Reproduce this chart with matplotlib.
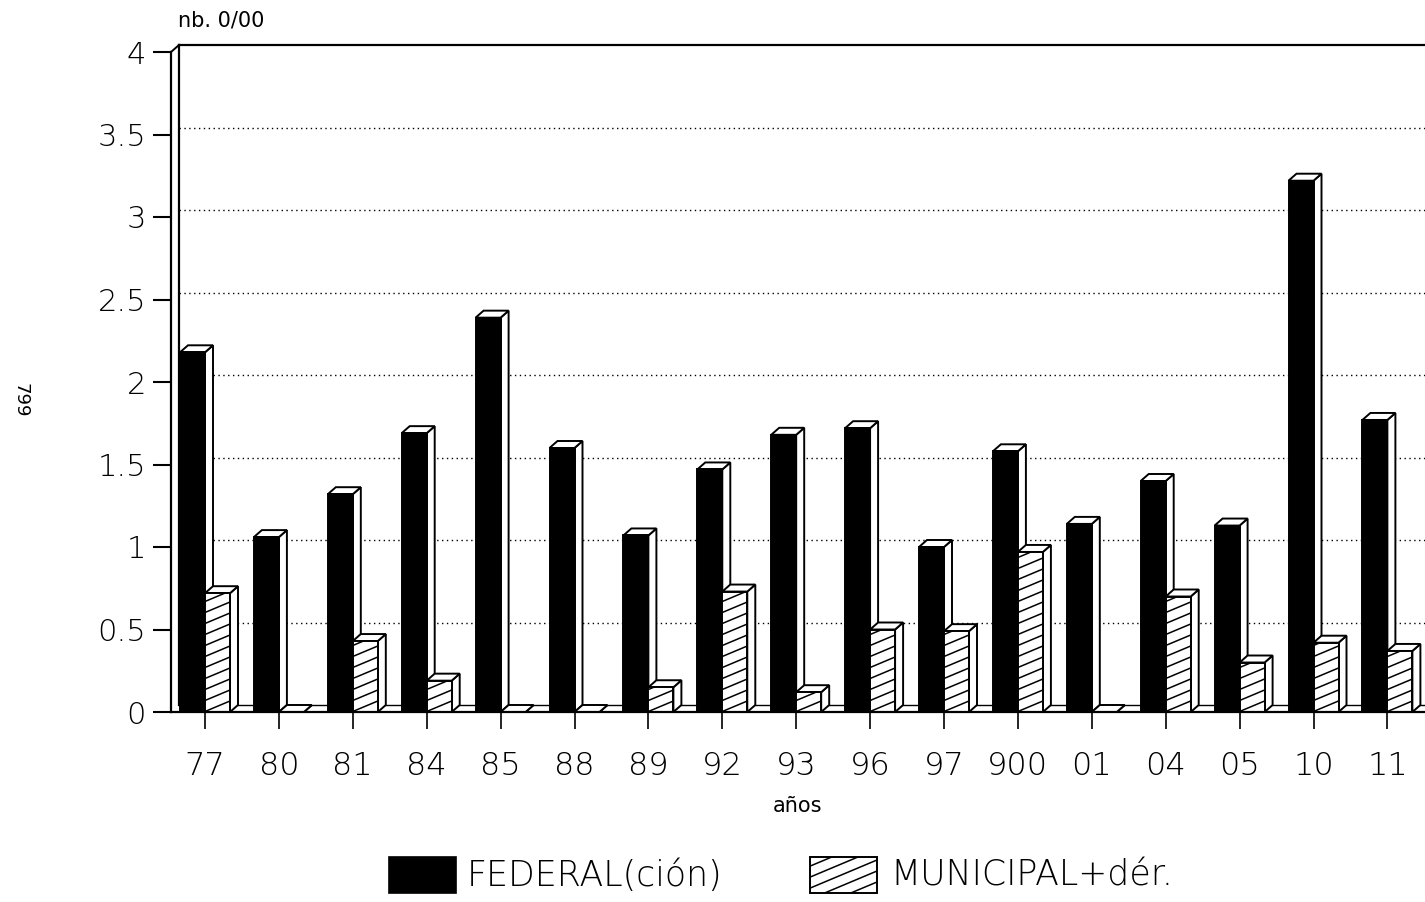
import matplotlib
matplotlib.use('Agg')
import matplotlib.pyplot as plt
from matplotlib.patches import Polygon, Rectangle
from matplotlib import font_manager as fm
import numpy as np

years = ['77', '80', '81', '84', '85', '88', '89', '92', '93', '96', '97', '900', '01', '04', '05', '10', '11']
federal = [2.18, 1.06, 1.32, 1.69, 2.39, 1.60, 1.07, 1.47, 1.68, 1.72, 1.00, 1.58, 1.14, 1.40, 1.13, 3.22, 1.77]
municipal = [0.72, 0.0, 0.43, 0.19, 0.0, 0.0, 0.15, 0.73, 0.12, 0.50, 0.49, 0.97, 0.0, 0.70, 0.30, 0.42, 0.37]
yticks = [0, 0.5, 1, 1.5, 2, 2.5, 3, 3.5, 4]
ytick_labels = ['0', '0.5', '1', '1.5', '2', '2.5', '3', '3.5', '4']
series_names = ['FEDERAL(ción)', 'MUNICIPAL+dér.']

# choose a light sans font if available
avail = {}
for f in fm.fontManager.ttflist:
    if f.style == 'normal':
        avail.setdefault(f.name, set()).add(f.weight)
FONT, WEIGHT = 'Liberation Sans', 'normal'
for name, wt in [('DejaVu Sans', 200), ('Open Sans', 300), ('Roboto', 300), ('Lato', 300)]:
    if name in avail and wt in avail[name]:
        FONT, WEIGHT = name, wt
        break
plt.rcParams['font.family'] = [FONT, 'DejaVu Sans']
plt.rcParams['font.weight'] = WEIGHT
plt.rcParams['axes.labelweight'] = WEIGHT

W, H = 1425, 902
fig = plt.figure(figsize=(W / 100, H / 100), dpi=100)

ax_l, ax_r = 171, 1425
y0px, y4px = 712, 52
ax = fig.add_axes([ax_l / W, 1 - y0px / H, (ax_r - ax_l) / W, (y0px - y4px) / H])

first_c, step = 205, 73.9
xmin = (ax_l - first_c) / step
xmax = (ax_r - first_c) / step
ax.set_xlim(xmin, xmax)
ax.set_ylim(0, 4)

sx = (ax_r - ax_l) / (xmax - xmin)   # px per x unit
sy = (y0px - y4px) / 4.0             # px per y unit
dx = 8 / sx
dy = 7 / sy
w = 25 / sx

x = np.arange(len(years))
lw = 1.4

# back wall grid
for yv in yticks[1:-1]:
    ax.plot([xmin + dx, xmax], [yv + dy, yv + dy], color='black', lw=1.0,
            linestyle=(0, (1, 2.5)), zorder=1)
# back wall frame
ax.plot([xmin + dx, xmin + dx], [dy, 4 + dy], color='black', lw=1.6, zorder=1, clip_on=False)
ax.plot([xmin + dx, xmax], [4 + dy, 4 + dy], color='black', lw=1.6, zorder=1, clip_on=False)
ax.plot([xmin, xmin + dx], [4, 4 + dy], color='black', lw=1.4, zorder=1, clip_on=False)
ax.plot([xmin + dx, xmax], [dy, dy], color='black', lw=1.0, zorder=1)


def hatch_rect(x0, x1, y0, y1, clip):
    slope_px = 0.42
    spacing_px = 11.0
    slope = slope_px * sx / sy
    sp = spacing_px / sy
    c = y0 - slope * (x1 - x0) - sp
    while c <= y1 + sp:
        ln, = ax.plot([x0, x1], [c, c + slope * (x1 - x0)], color='black', lw=1.1, zorder=4)
        ln.set_clip_path(clip)
        c += sp


def box_faces(x0, v, z):
    top = Polygon([(x0, v), (x0 + w, v), (x0 + w + dx, v + dy), (x0 + dx, v + dy)],
                  closed=True, facecolor='white', edgecolor='black', lw=lw, zorder=z)
    side = Polygon([(x0 + w, 0), (x0 + w + dx, dy), (x0 + w + dx, v + dy), (x0 + w, v)],
                   closed=True, facecolor='white', edgecolor='black', lw=lw, zorder=z)
    ax.add_patch(side)
    ax.add_patch(top)


for i in range(len(years)):
    zf = 3 + i * 0.01
    box_faces(x[i] - w, federal[i], zf)
    ax.bar(x[i] - w, federal[i], width=w, align='edge', color='black',
           edgecolor='black', lw=lw, zorder=zf)
    zm = 3.5 + i * 0.01
    box_faces(x[i], municipal[i], zm)
    bm = ax.bar(x[i], municipal[i], width=w, align='edge', color='white',
                edgecolor='black', lw=lw, zorder=zm)
    if municipal[i] > 0:
        hatch_rect(x[i], x[i] + w, 0, municipal[i], bm.patches[0])

for s in ['top', 'right']:
    ax.spines[s].set_visible(False)
ax.spines['left'].set_linewidth(1.6)
ax.spines['bottom'].set_linewidth(1.6)
ax.spines['left'].set_zorder(6)
ax.spines['bottom'].set_zorder(6)

ax.set_yticks(yticks)
ax.set_yticklabels(ytick_labels, fontsize=22)
ax.tick_params(axis='y', direction='out', length=13, width=1.5, pad=5)
ax.set_xticks(x)
ax.set_xticklabels(years, fontsize=23)
ax.tick_params(axis='x', direction='out', length=12, width=1.2, pad=16)
ax.set_xlabel('años', fontsize=15, labelpad=11, fontweight='normal')

fig.text(178 / W, 1 - 20 / H, 'nb. 0/00', fontsize=15, ha='left', va='center', fontweight='normal')
fig.text(20 / W, 1 - 400 / H, '799', fontsize=13, rotation=-90, ha='center', va='center',
         fontweight='normal')

# legend
lax = fig.add_axes([0, 0, 1, 1], zorder=10)
lax.set_xlim(0, W)
lax.set_ylim(H, 0)
lax.axis('off')
lax.add_patch(Rectangle((389, 857), 67, 36, facecolor='black', edgecolor='black', lw=1.2))
lax.text(467, 876, series_names[0], fontsize=25, ha='left', va='center')
hr = Rectangle((810, 857), 67, 36, facecolor='white', edgecolor='black', lw=1.4)
lax.add_patch(hr)
c = 857 + 36 + 0.42 * 67
while c >= 857 - 12:
    ln, = lax.plot([810, 877], [c, c - 0.42 * 67], color='black', lw=1.1)
    ln.set_clip_path(hr)
    c -= 11
lax.text(890, 876, series_names[1], fontsize=25, ha='left', va='center')

fig.savefig('out.png', dpi=100)
